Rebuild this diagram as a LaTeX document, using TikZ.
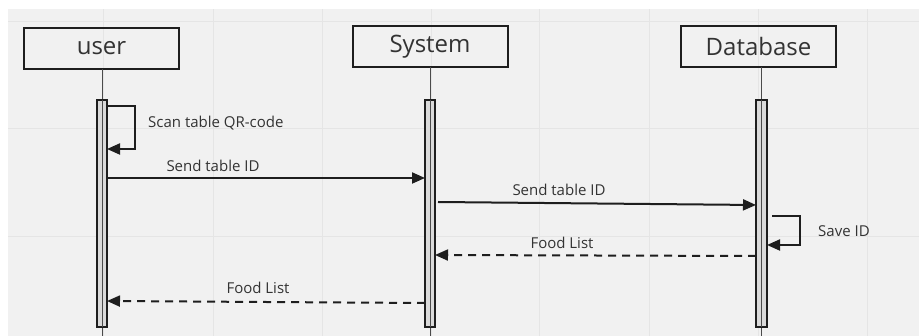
\documentclass[tikz,border=0pt]{standalone}
\usepackage{fontspec}
\setmainfont{Open Sans}
\usetikzlibrary{arrows.meta,calc}
\definecolor{bg}{HTML}{F1F1F1}
\definecolor{gridc}{HTML}{E5E5E5}
\definecolor{ink}{HTML}{1E1E1E}
\definecolor{txt}{HTML}{333333}
\definecolor{barfill}{HTML}{DADADA}
\begin{document}
\begin{tikzpicture}[x=1pt,y=-1pt,
  actor/.style={draw=ink,line width=2pt,minimum width=155pt,minimum height=41pt,inner sep=0pt,outer sep=0pt,font=\fontsize{24}{26}\selectfont,text=txt},
  actbar/.style={draw=ink,line width=1.5pt,fill=barfill,minimum width=10pt,minimum height=227pt,inner sep=0pt,outer sep=0pt},
  life/.style={draw=ink!80,line width=0.9pt},
  msg/.style={draw=ink,line width=2pt,-{Triangle[length=13pt,width=11pt]}},
  ret/.style={msg,dash pattern=on 8pt off 6pt},
  lbl/.style={font=\fontsize{15}{17}\selectfont,text=txt,inner sep=0pt}]
\useasboundingbox (0,0) rectangle (919,336);
\fill[bg] (8,9) rectangle (919,336);
\foreach \gx in {103,213,322,431,539,649,758,867} \draw[gridc,line width=1pt] (\gx,9) -- (\gx,336);
\foreach \gy in {22,129,237} \draw[gridc,line width=1pt] (8,\gy) -- (919,\gy);
% actors
\node[actor] (user) at (101.5,48.5) {user};
\node[actor] (sys) at (430,47) {System};
\node[actor] (db) at (758.5,47) {Database};
% lifelines
\coordinate (ubot) at (102,336);
\coordinate (sbot) at (430,336);
\coordinate (dbot) at (761.5,336);
\draw[life] (user.south -| ubot) -- (ubot);
\draw[life] (sys.south -| sbot) -- (sbot);
\draw[life] (db.south -| dbot) -- (dbot);
% activation bars
\node[actbar] (ubar) at (102,213.5) {};
\node[actbar] (sbar) at (430,213.5) {};
\node[actbar,minimum width=11pt] (dbar) at (761.5,213.5) {};
\draw[life] (ubar.north) -- (ubar.south);
\draw[life] (sbar.north) -- (sbar.south);
\draw[life] (dbar.north) -- (dbar.south);
% self message user
\coordinate (q1) at (135,106);
\coordinate (q2) at (135,149);
\draw[msg] (ubar.east |- q1) -- (q1) -- (q2) -- (ubar.east |- q2);
\node[lbl,anchor=west] (lq) at (148,123) {Scan table QR-code};
% send table ID user -> system
\coordinate (m1) at (0,178);
\draw[msg] (ubar.east |- m1) -- (sbar.west |- m1);
\node[lbl] (l1) at (213,166) {Send table ID};
% send table ID system -> database
\coordinate (m2a) at (0,202);
\coordinate (m2b) at (0,205);
\draw[msg] ($(sbar.east |- m2a)+(3,0)$) -- (dbar.west |- m2b);
\node[lbl] (l2) at (559,190) {Send table ID};
% self message database
\coordinate (s1) at (800,216);
\coordinate (s2) at (800,245);
\draw[msg] ($(dbar.east |- s1)+(5,0)$) -- (s1) -- (s2) -- (dbar.east |- s2);
\node[lbl,anchor=west] (ls) at (818,231) {Save ID};
% food list database -> system
\coordinate (r1a) at (0,256);
\coordinate (r1b) at (0,255);
\draw[ret] (dbar.west |- r1a) -- (sbar.east |- r1b);
\node[lbl] (lr1) at (562,243) {Food List};
% food list system -> user
\coordinate (r2a) at (0,303);
\coordinate (r2b) at (0,301);
\draw[ret] (sbar.west |- r2a) -- (ubar.east |- r2b);
\node[lbl] (lr2) at (258,288) {Food List};
\end{tikzpicture}
\end{document}
